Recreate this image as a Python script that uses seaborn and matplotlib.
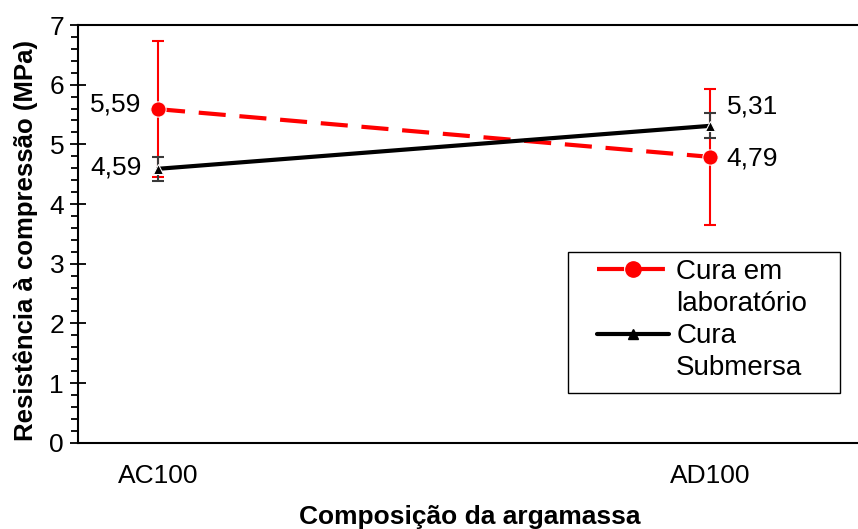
import matplotlib
matplotlib.use("Agg")
import matplotlib.pyplot as plt
import seaborn as sns
import pandas as pd
from matplotlib.ticker import MultipleLocator
from matplotlib.patches import Rectangle
from matplotlib.lines import Line2D

sns.set_style("white")
plt.rcParams['font.family'] = ['Liberation Sans', 'DejaVu Sans']
plt.rcParams.update({"text.color": "black", "axes.labelcolor": "black",
                     "xtick.color": "black", "ytick.color": "black"})

categories = ["AC100", "AD100"]
lab_values = [5.59, 4.79]
lab_err = [1.14, 1.14]
sub_values = [4.59, 5.31]
sub_err = [0.20, 0.21]
lab_labels = ["5,59", "4,79"]
sub_labels = ["4,59", "5,31"]
series_names = ["Cura em laboratório", "Cura Submersa"]

df = pd.DataFrame({
    "comp": categories * 2,
    "val": lab_values + sub_values,
    "serie": [series_names[0]] * 2 + [series_names[1]] * 2,
})

fig = plt.figure(figsize=(8.58, 5.29), dpi=100)
ax = fig.add_axes([78 / 858, 1 - 442.7 / 529, (930 - 78) / 858, (442.7 - 25) / 529])

sns.lineplot(data=df, x="comp", y="val", hue="serie", style="serie",
             palette=["#ff0000", "black"], markers=["o", "^"],
             dashes=[(6.5, 3.3), ""], linewidth=3, ax=ax, legend=False)
lines = ax.get_lines()
lines[0].set_markersize(11)
lines[1].set_markersize(7)
lines[0].set_zorder(3)
lines[1].set_zorder(3)

x = [0, 1]
ax.errorbar(x, lab_values, yerr=lab_err, fmt="none", ecolor="#ff0000",
            elinewidth=1.5, capsize=4, capthick=1.5, zorder=2)
ax.errorbar(x, sub_values, yerr=sub_err, fmt="none", ecolor="#3a3a3a",
            elinewidth=1.5, capsize=4, capthick=1.5, zorder=2.5)

fs = 19
ax.text(0 - 0.03, lab_values[0] + 0.07, lab_labels[0], ha="right", va="center", fontsize=fs)
ax.text(0 - 0.03, sub_values[0] + 0.02, sub_labels[0], ha="right", va="center", fontsize=fs)
ax.text(1 + 0.03, lab_values[1] - 0.03, lab_labels[1], ha="left", va="center", fontsize=fs)
ax.text(1 + 0.03, sub_values[1] + 0.32, sub_labels[1], ha="left", va="center", fontsize=fs)

ax.set_xlim(-0.145, (930 - 158) / 552)
ax.set_ylim(0, 7)
ax.yaxis.set_major_locator(MultipleLocator(1))
ax.yaxis.set_minor_locator(MultipleLocator(0.2))
ax.tick_params(axis="y", which="major", direction="inout", length=12, width=1.3,
               labelsize=fs, left=True, pad=4, color="black", labelcolor="black")
ax.tick_params(axis="y", which="minor", direction="out", length=5, width=1.3,
               left=True, color="black")
ax.tick_params(axis="x", which="both", bottom=False, labelsize=fs, pad=12,
               labelcolor="black")

for side in ["left", "top", "bottom"]:
    ax.spines[side].set_visible(True)
    ax.spines[side].set_linewidth(1.5)
    ax.spines[side].set_color("black")
ax.spines["right"].set_visible(False)

ax.set_xlabel("Composição da argamassa", fontsize=19, fontweight="bold", color="black")
ax.xaxis.set_label_coords((470 - 78) / 852, (442.7 - 505) / 417.7)
ax.set_ylabel("Resistência à compressão (MPa)", fontsize=18.5, fontweight="bold",
              labelpad=8, color="black")
ax.yaxis.label.set_y(0.485)

# legend: handle aligned with the first line of each two-line label
blank = Line2D([], [], linestyle="none", marker="none")
h_lab = Line2D([], [], color="#ff0000", linewidth=3, dashes=(6.5, 3.3),
               marker="o", markersize=11)
h_sub = Line2D([], [], color="black", linewidth=3, marker="^", markersize=7)
leg = ax.legend(handles=[h_lab, blank, h_sub, blank],
                labels=["Cura em", "laboratório", "Cura", "Submersa"],
                loc="upper left", bbox_transform=fig.transFigure,
                bbox_to_anchor=(597 / 858, 1 - 259 / 529),
                fontsize=20, frameon=False, handlelength=2.6,
                labelspacing=0.22, borderpad=0.0, borderaxespad=0.0,
                handletextpad=0.25, labelcolor="black")
fig.patches.append(Rectangle((568 / 858, 1 - 393 / 529), (840 - 568) / 858,
                             (393 - 252) / 529, transform=fig.transFigure,
                             fill=False, edgecolor="black", linewidth=1.0,
                             zorder=5))

fig.savefig("out.png", dpi=100)
